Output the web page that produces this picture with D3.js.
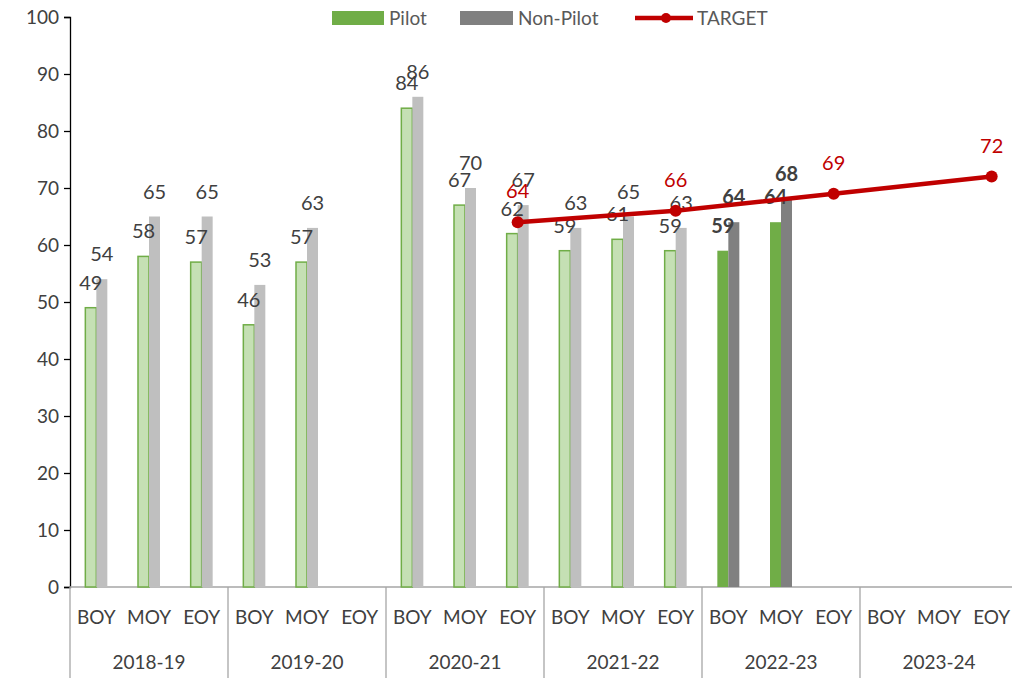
<!DOCTYPE html>
<html><head><meta charset="utf-8">
<script src="https://cdn.jsdelivr.net/npm/d3@7/dist/d3.min.js"></script>
<style>body{margin:0;background:#fff}svg{display:block;font-family:Lato,"Open Sans",sans-serif}</style>
</head><body><svg id="c" width="1012" height="678"></svg>
<script>
const years = ["2018-19","2019-20","2020-21","2021-22","2022-23","2023-24"];
const periods = ["BOY","MOY","EOY"];
const pilot    = [49,58,57, 46,57,null, 84,67,62, 59,61,59, 59,64,null, null,null,null];
const nonPilot = [54,65,65, 53,63,null, 86,70,67, 63,65,63, 64,68,null, null,null,null];
const target   = [null,null,null, null,null,null, null,null,64, null,null,66, null,null,69, null,null,72];
const yTicks = [0,10,20,30,40,50,60,70,80,90,100];
const highlightYear = "2022-23";

const cats = [];
years.forEach(y => periods.forEach(p => cats.push({year:y, period:p, key:y+"|"+p})));

const svg = d3.select("#c");
const L = 70, R = 1018, T = 17, B = 587;
const x = d3.scaleBand().domain(cats.map(c=>c.key)).range([L,R]).padding(0);
const y = d3.scaleLinear().domain([0,100]).range([B,T]);
const bw = 11;

const lightGreen = "#C5E0B4", green = "#70AD47", lightGrey = "#BFBFBF", grey = "#808080";

// y axis
const ya = svg.append("g").attr("transform",`translate(${L},0)`)
  .call(d3.axisLeft(y).tickValues(yTicks).tickSize(6).tickPadding(5));
ya.selectAll("path,line").attr("stroke","#000").attr("stroke-width",1.3);
ya.selectAll("text").attr("font-size",19).attr("fill","#404040").attr("font-family","Lato,'Open Sans',sans-serif");

// x axis base + separators
svg.append("line").attr("x1",L).attr("x2",R).attr("y1",B).attr("y2",B).attr("stroke","#A6A6A6").attr("stroke-width",1.3);
const yearEdges = years.map((yr,i)=>x(yr+"|BOY")).concat([R]);
svg.selectAll("line.sep").data(yearEdges).join("line").attr("class","sep")
  .attr("x1",d=>d).attr("x2",d=>d).attr("y1",B).attr("y2",678).attr("stroke","#A6A6A6").attr("stroke-width",1.3);
svg.selectAll("text.cat").data(cats).join("text").attr("class","cat")
  .attr("x",d=>x(d.key)+x.bandwidth()/2).attr("y",624).attr("text-anchor","middle")
  .attr("font-size",19).attr("fill","#404040").text(d=>d.period);
svg.selectAll("text.yr").data(years).join("text").attr("class","yr")
  .attr("x",d=>x(d+"|MOY")+x.bandwidth()/2).attr("y",669).attr("text-anchor","middle")
  .attr("font-size",19).attr("fill","#404040").text(d=>d);

// bars
const pData = cats.map((c,i)=>({...c, v:pilot[i]})).filter(d=>d.v!=null);
const nData = cats.map((c,i)=>({...c, v:nonPilot[i]})).filter(d=>d.v!=null);
svg.selectAll("rect.p").data(pData).join("rect").attr("class","p")
  .attr("x",d=>x(d.key)+x.bandwidth()/2-bw).attr("width",bw)
  .attr("y",d=>y(d.v)).attr("height",d=>B-y(d.v))
  .attr("fill",d=>d.year===highlightYear?green:lightGreen)
  .attr("stroke",green).attr("stroke-width",d=>d.year===highlightYear?0:1.5);
svg.selectAll("rect.n").data(nData).join("rect").attr("class","n")
  .attr("x",d=>x(d.key)+x.bandwidth()/2).attr("width",bw)
  .attr("y",d=>y(d.v)).attr("height",d=>B-y(d.v))
  .attr("fill",d=>d.year===highlightYear?grey:lightGrey);

// labels
svg.selectAll("text.pl").data(pData).join("text").attr("class","pl")
  .attr("x",d=>x(d.key)+x.bandwidth()/2-bw/2).attr("y",d=>y(d.v)-18).attr("text-anchor","middle")
  .attr("font-size",20).attr("fill","#404040").attr("font-weight",d=>d.year===highlightYear?"bold":"normal").text(d=>d.v);
svg.selectAll("text.nl").data(nData).join("text").attr("class","nl")
  .attr("x",d=>x(d.key)+x.bandwidth()/2+bw/2).attr("y",d=>y(d.v)-18).attr("text-anchor","middle")
  .attr("font-size",20).attr("fill","#404040").attr("font-weight",d=>d.year===highlightYear?"bold":"normal").text(d=>d.v);

// target
const tData = cats.map((c,i)=>({...c, v:target[i]})).filter(d=>d.v!=null);
const red = "#C00000";
svg.append("path").datum(tData)
  .attr("d",d3.line().x(d=>x(d.key)+x.bandwidth()/2).y(d=>y(d.v)))
  .attr("fill","none").attr("stroke",red).attr("stroke-width",4.5);
svg.selectAll("circle.t").data(tData).join("circle").attr("class","t")
  .attr("cx",d=>x(d.key)+x.bandwidth()/2).attr("cy",d=>y(d.v)).attr("r",6).attr("fill",red);
svg.selectAll("text.tl").data(tData).join("text").attr("class","tl")
  .attr("x",d=>x(d.key)+x.bandwidth()/2).attr("y",d=>y(d.v)-24).attr("text-anchor","middle")
  .attr("font-size",20).attr("fill",red).text(d=>d.v);

// legend
const lg = svg.append("g");
lg.append("rect").attr("x",332).attr("y",11).attr("width",52).attr("height",14).attr("fill",green);
lg.append("text").attr("x",389).attr("y",25).attr("font-size",19).attr("fill","#595959").text("Pilot");
lg.append("rect").attr("x",460).attr("y",11).attr("width",53).attr("height",14).attr("fill",grey);
lg.append("text").attr("x",518).attr("y",25).attr("font-size",19).attr("fill","#595959").text("Non-Pilot");
lg.append("line").attr("x1",635).attr("x2",693).attr("y1",18).attr("y2",18).attr("stroke",red).attr("stroke-width",4.5);
lg.append("circle").attr("cx",666).attr("cy",18).attr("r",5).attr("fill",red);
lg.append("text").attr("x",697).attr("y",25).attr("font-size",19).attr("fill","#595959").text("TARGET");
</script></body></html>
